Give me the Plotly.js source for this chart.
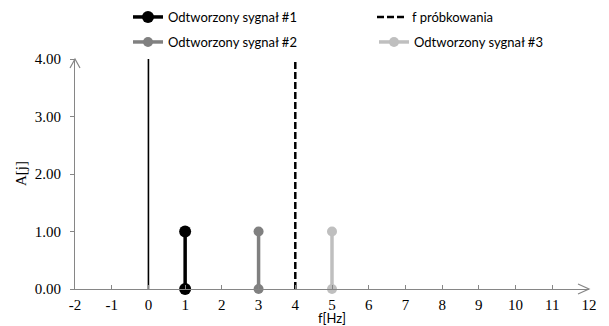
<!DOCTYPE html>
<html>
<head>
<meta charset="utf-8">
<script src="https://cdn.plot.ly/plotly-3.0.1.min.js"></script>
<style>html,body{margin:0;padding:0;background:#fff;}#chart{width:609px;height:326px;}</style>
</head>
<body>
<div id="chart"></div>
<script>
// Data
var sig1Freq = [1, 1];
var sig1Amp = [0, 1];
var sig2Freq = [3, 3];
var sig2Amp = [0, 1];
var sig3Freq = [5, 5];
var sig3Amp = [0, 1];
var sampFreq = [4, 4];
var sampAmp = [0, 4];
var zeroFreq = [0, 0];
var zeroAmp = [0, 4];
var xTickVals = [-2, -1, 0, 1, 2, 3, 4, 5, 6, 7, 8, 9, 10, 11, 12];
var xTickText = ['-2', '-1', '0', '1', '2', '3', '4', '5', '6', '7', '8', '9', '10', '11', '12'];
var yTickVals = [0, 1, 2, 3, 4];
var yTickText = ['0.00', '1.00', '2.00', '3.00', '4.00'];
var names = ['Odtworzony sygnał #1', 'f próbkowania', 'Odtworzony sygnał #2', 'Odtworzony sygnał #3'];
var xTitle = 'f[Hz]';
var yTitle = 'A[j]';

var traces = [
  {x: zeroFreq, y: zeroAmp, mode: 'lines', line: {color: '#000000', width: 1.6}, showlegend: false, hoverinfo: 'skip'},
  {x: sig1Freq, y: sig1Amp, name: names[0], legend: 'legend', mode: 'lines+markers', line: {color: '#000000', width: 3.5}, marker: {color: '#000000', size: 12}, cliponaxis: false},
  {x: sampFreq, y: sampAmp, name: names[1], legend: 'legend2', mode: 'lines', line: {color: '#000000', width: 2.5, dash: '7px,3px'}, cliponaxis: false},
  {x: sig2Freq, y: sig2Amp, name: names[2], legend: 'legend3', mode: 'lines+markers', line: {color: '#808080', width: 3.5}, marker: {color: '#808080', size: 10}, cliponaxis: false},
  {x: sig3Freq, y: sig3Amp, name: names[3], legend: 'legend4', mode: 'lines+markers', line: {color: '#BFBFBF', width: 3.5}, marker: {color: '#BFBFBF', size: 10}, cliponaxis: false}
];

var axisColor = '#868686';
var W = 609, H = 326, ML = 75, MR = 20, MT = 59, MB = 37;
var PW = W - ML - MR, PH = H - MT - MB;
function mkLegend(xPx, yPx) {
  return {
    orientation: 'v', xref: 'container', yref: 'container',
    x: xPx / W, y: 1 - yPx / H, xanchor: 'left', yanchor: 'middle',
    font: {family: 'Lato, sans-serif', size: 13, color: '#000000'},
    bgcolor: 'rgba(0,0,0,0)', borderwidth: 0
  };
}
// arrowheads in paper units built from pixel sizes
var ax = 5 / PW, ay = 9 / PH;      // y-axis arrow half-width / length
var bx = 11 / PW, by = 5 / PH;     // x-axis arrow length / half-height
var yArrowPath = 'M' + (-ax) + ',' + (1 - ay) + ' L0,1 L' + ax + ',' + (1 - ay);
var xArrowPath = 'M' + (1 - bx) + ',' + by + ' L1,0 L' + (1 - bx) + ',' + (-by);

var layout = {
  width: W, height: H,
  margin: {l: ML, r: MR, t: MT, b: MB, pad: 0, autoexpand: false},
  paper_bgcolor: '#ffffff', plot_bgcolor: '#ffffff',
  showlegend: true,
  legend: mkLegend(128, 17),
  legend2: mkLegend(372, 17),
  legend3: mkLegend(128, 42),
  legend4: mkLegend(374, 42),
  xaxis: {
    range: [-2, 12], tickmode: 'array', tickvals: xTickVals, ticktext: xTickText,
    showgrid: false, zeroline: false, showline: true, linecolor: axisColor, linewidth: 1,
    ticks: 'inside', ticklen: 4, tickcolor: axisColor, ticklabelstandoff: 2,
    tickfont: {family: '"Liberation Serif", serif', size: 15, color: '#000000'},
    fixedrange: true
  },
  yaxis: {
    range: [0, 4], tickmode: 'array', tickvals: yTickVals, ticktext: yTickText,
    showgrid: false, zeroline: false, showline: true, linecolor: axisColor, linewidth: 1,
    ticks: 'outside', ticklen: 4, tickcolor: axisColor, ticklabelstandoff: 6,
    tickfont: {family: '"Liberation Serif", serif', size: 15, color: '#000000'},
    fixedrange: true
  },
  annotations: [
    {text: xTitle, xref: 'paper', yref: 'paper', x: 0.5, y: -0.126, xanchor: 'center', yanchor: 'middle',
     showarrow: false, font: {family: 'Lato, sans-serif', size: 13, color: '#000000'}},
    {text: yTitle, xref: 'paper', yref: 'paper', x: -0.105, y: 0.5, xanchor: 'center', yanchor: 'middle',
     textangle: -90, showarrow: false, font: {family: '"Liberation Serif", serif', size: 15, color: '#000000'}}
  ],
  shapes: [
    {type: 'path', xref: 'paper', yref: 'paper', path: yArrowPath, line: {color: axisColor, width: 1.2}},
    {type: 'path', xref: 'paper', yref: 'paper', path: xArrowPath, line: {color: axisColor, width: 1.2}}
  ]
};

Plotly.newPlot('chart', traces, layout, {displayModeBar: false, staticPlot: true});
</script>
</body>
</html>
